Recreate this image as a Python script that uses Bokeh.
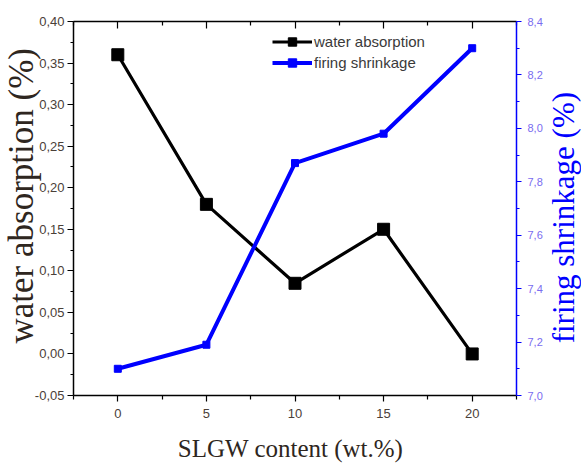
import math
from bokeh.plotting import figure
from bokeh.models import (Range1d, LinearAxis, FixedTicker, CustomJSTickFormatter,
                          Legend, LegendItem, Label, Title)
from bokeh.embed import file_html
from bokeh.resources import INLINE

# SLGW addition (wt.%) and the two measured properties
slgw_content = [0, 5, 10, 15, 20]
water_absorption = [0.36, 0.18, 0.085, 0.15, 0.0]
firing_shrinkage = [7.10, 7.19, 7.87, 7.98, 8.30]

# tick positions
x_major = [0, 5, 10, 15, 20]
x_minor = [-2.5, 2.5, 7.5, 12.5, 17.5, 22.5]
wa_major = [-0.05, 0.0, 0.05, 0.10, 0.15, 0.20, 0.25, 0.30, 0.35, 0.40]
wa_minor = [-0.025, 0.025, 0.075, 0.125, 0.175, 0.225, 0.275, 0.325, 0.375]
fs_major = [7.0, 7.2, 7.4, 7.6, 7.8, 8.0, 8.2, 8.4]
fs_minor = [7.1, 7.3, 7.5, 7.7, 7.9, 8.1, 8.3]

BLUE = "#0000ff"
SANS = "Liberation Sans"
SERIF = "Liberation Serif"

p = figure(width=581, height=463, output_backend="svg", toolbar_location=None,
           x_range=Range1d(-2.5, 22.5), y_range=Range1d(-0.05, 0.40),
           min_border_left=73, min_border_right=65, min_border_top=21,
           min_border_bottom=68, x_axis_location=None, y_axis_location=None)
p.outline_line_color = None
p.grid.visible = False
p.background_fill_color = "white"
p.border_fill_color = "white"
p.extra_y_ranges = {"fs": Range1d(7.0, 8.4)}


def style_axis(ax, color, label_color, size):
    ax.axis_line_color = color
    ax.axis_line_width = 1.5
    ax.major_tick_line_color = color
    ax.minor_tick_line_color = color
    ax.major_tick_line_width = 1.2
    ax.minor_tick_line_width = 1.2
    ax.major_label_text_font = SANS
    ax.major_label_text_font_size = size
    ax.major_label_text_color = label_color


# bottom axis
xb = LinearAxis(ticker=FixedTicker(ticks=x_major, minor_ticks=x_minor))
style_axis(xb, "black", "#4a4038", "13px")
xb.major_tick_out = 6
xb.major_tick_in = 0
xb.minor_tick_out = 4
xb.minor_tick_in = 0
xb.major_label_standoff = 7
p.add_layout(xb, "below")

# top axis: ticks only, pointing inward
xt = LinearAxis(ticker=FixedTicker(ticks=x_major, minor_ticks=x_minor),
                formatter=CustomJSTickFormatter(code="return '';"))
style_axis(xt, "black", "black", "1px")
xt.major_tick_out = 0
xt.major_tick_in = 7
xt.minor_tick_out = 0
xt.minor_tick_in = 4
xt.major_label_standoff = 0
p.add_layout(xt, "above")

# left axis: water absorption
yl = LinearAxis(ticker=FixedTicker(ticks=wa_major, minor_ticks=wa_minor),
                formatter=CustomJSTickFormatter(code="return tick.toFixed(2).replace('.', ',');"))
style_axis(yl, "black", "#4a4038", "13px")
yl.major_tick_out = 6
yl.major_tick_in = 0
yl.minor_tick_out = 3
yl.minor_tick_in = 0
yl.major_label_standoff = 3
p.add_layout(yl, "left")

# left title sits outside the axis, raised from the bottom and tucked toward the tick labels
p.add_layout(Title(text="water absorption (%)", align="left", offset=52,
                   standoff=-20, vertical_align="middle",
                   text_font=SERIF, text_font_size="35px", text_font_style="normal",
                   text_color="#2e2620"), "left")

# right axis: firing shrinkage
yr = LinearAxis(y_range_name="fs", ticker=FixedTicker(ticks=fs_major, minor_ticks=fs_minor),
                formatter=CustomJSTickFormatter(code="return tick.toFixed(1).replace('.', ',');"))
style_axis(yr, BLUE, "#7a6cf0", "11px")
yr.major_tick_out = 5
yr.major_tick_in = 0
yr.minor_tick_out = 3
yr.minor_tick_in = 0
yr.major_label_standoff = 6
p.add_layout(yr, "right")

# series
l1 = p.line(slgw_content, water_absorption, line_color="black", line_width=3.2)
s1 = p.scatter(slgw_content, water_absorption, marker="square", size=12,
               fill_color="black", line_color="black")
l2 = p.line(slgw_content, firing_shrinkage, line_color=BLUE, line_width=4,
            y_range_name="fs")
s2 = p.scatter(slgw_content, firing_shrinkage, marker="square", size=7,
               fill_color=BLUE, line_color=BLUE, y_range_name="fs")

legend = Legend(items=[LegendItem(label="water absorption", renderers=[l1, s1]),
                       LegendItem(label="firing shrinkage", renderers=[l2, s2])],
                location=(199, 322), orientation="vertical")
legend.glyph_width = 40
legend.glyph_height = 21
legend.label_height = 21
legend.label_standoff = 2
legend.spacing = 0
legend.padding = 0
legend.margin = 0
legend.border_line_alpha = 0
legend.background_fill_alpha = 0
legend.label_text_font = SANS
legend.label_text_font_size = "15px"
legend.label_text_color = "#3a3a3a"
p.add_layout(legend)

# right and bottom titles, placed in the side panels (data units map through the frame scales)
p.add_layout(Label(x=25.15, y=0.164, text="firing shrinkage (%)", angle=math.pi / 2,
                   text_align="center", text_baseline="middle",
                   text_font=SERIF, text_font_size="31px", text_color=BLUE), "right")
p.add_layout(Label(x=9.75, y=-0.114, text="SLGW content (wt.%)",
                   text_align="center", text_baseline="middle",
                   text_font=SERIF, text_font_size="25px", text_color="#2e2620"), "below")

open("out.html", "w").write(file_html(p, INLINE))
